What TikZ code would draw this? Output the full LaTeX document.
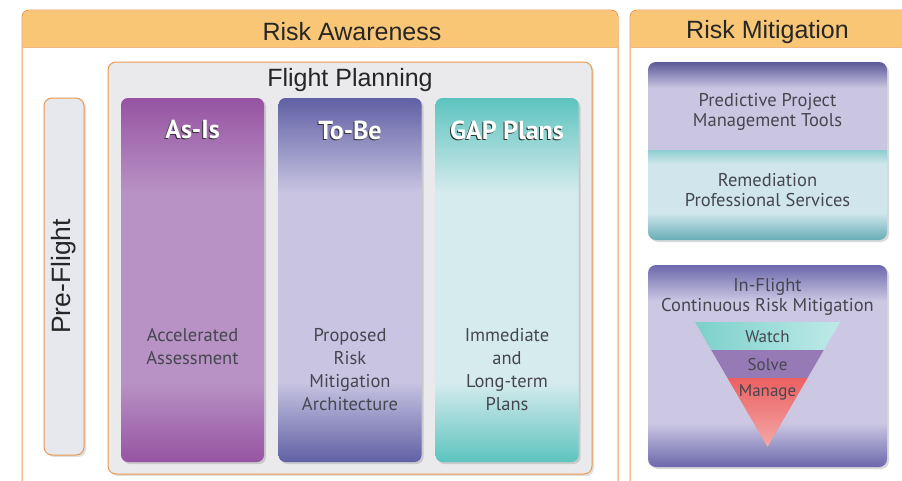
\documentclass[tikz,border=0pt]{standalone}
\usepackage{fontspec}
\setmainfont{PT Sans}
\newfontfamily\headfont{Liberation Sans}
\usetikzlibrary{shadows, positioning}
\definecolor{hdrorange}{RGB}{249,198,118}
\definecolor{lineorange}{RGB}{236,152,78}
\definecolor{boxgray}{RGB}{234,234,237}
\definecolor{preblue}{RGB}{230,232,238}
\definecolor{txtgray}{RGB}{70,70,80}
\definecolor{asisEdge}{RGB}{150,84,162}
\definecolor{asisMid}{RGB}{184,146,196}
\definecolor{tobeEdge}{RGB}{96,96,164}
\definecolor{tobeMid}{RGB}{200,196,226}
\definecolor{gapEdge}{RGB}{92,196,190}
\definecolor{gapMid}{RGB}{214,235,238}
\definecolor{toolTop}{RGB}{92,88,152}
\definecolor{toolMid}{RGB}{202,198,226}
\definecolor{servTop}{RGB}{140,206,208}
\definecolor{servMid}{RGB}{208,230,236}
\definecolor{servBot}{RGB}{104,172,182}
\definecolor{flyEdge}{RGB}{108,104,172}
\definecolor{flyMid}{RGB}{204,200,228}
\definecolor{watchc}{RGB}{190,234,232}
\definecolor{solvec}{RGB}{150,122,182}
\definecolor{managec}{RGB}{236,96,96}

% vertical shadings: the path fills 25bp..75bp
\pgfdeclareverticalshading{asisShade}{100bp}{color(0bp)=(asisEdge); color(25bp)=(asisEdge);
  color(36bp)=(asisMid); color(62bp)=(asisMid); color(75bp)=(asisEdge); color(100bp)=(asisEdge)}
\pgfdeclareverticalshading{tobeShade}{100bp}{color(0bp)=(tobeEdge); color(25bp)=(tobeEdge);
  color(36bp)=(tobeMid); color(62bp)=(tobeMid); color(75bp)=(tobeEdge); color(100bp)=(tobeEdge)}
\pgfdeclareverticalshading{gapShade}{100bp}{color(0bp)=(gapEdge); color(25bp)=(gapEdge);
  color(36bp)=(gapMid); color(62bp)=(gapMid); color(75bp)=(gapEdge); color(100bp)=(gapEdge)}
\pgfdeclareverticalshading{toolShade}{100bp}{color(0bp)=(toolMid); color(60bp)=(toolMid);
  color(75bp)=(toolTop); color(100bp)=(toolTop)}
\pgfdeclareverticalshading{servShade}{100bp}{color(0bp)=(servBot); color(25bp)=(servBot);
  color(40bp)=(servMid); color(68bp)=(servMid); color(75bp)=(servTop); color(100bp)=(servTop)}
\pgfdeclareverticalshading{flyShade}{100bp}{color(0bp)=(flyEdge); color(25bp)=(flyEdge);
  color(36bp)=(flyMid); color(66bp)=(flyMid); color(75bp)=(flyEdge); color(100bp)=(flyEdge)}

\tikzset{
  panel/.style={draw=lineorange, line width=1pt, fill=white, rounded corners=7pt},
  header/.style={font=\headfont\fontsize{25}{29}\selectfont, text=black!85},
  plainbox/.style={draw=lineorange, line width=1pt, fill=boxgray, rounded corners=8pt,
    inner sep=0pt, outer sep=0pt, drop shadow={opacity=0.25, shadow xshift=2pt, shadow yshift=-2pt}},
  column/.style={rounded corners=7pt, inner sep=0pt, outer sep=0pt, minimum width=143pt,
    minimum height=364pt, drop shadow={opacity=0.3, shadow xshift=2pt, shadow yshift=-2pt}},
  coltitle/.style={font=\fontsize{26}{29}\selectfont\bfseries, text=white},
  coltitleshade/.style={font=\fontsize{26}{29}\selectfont\bfseries, text=black!80},
  bodytext/.style={font=\fontsize{18.5}{23}\selectfont, text=txtgray, align=center},
  boxtext/.style={font=\fontsize{18.5}{19.5}\selectfont, text=txtgray, align=center},
  toolbox/.style={rounded corners=8pt, inner sep=0pt, outer sep=0pt, minimum width=239pt,
    drop shadow={opacity=0.3, shadow xshift=2pt, shadow yshift=-2pt}},
  bandtext/.style={font=\fontsize{17}{20}\selectfont, text=txtgray}
}

\begin{document}
\begin{tikzpicture}[x=1pt, y=-1pt]
    \useasboundingbox (0,0) rectangle (902,480);
    \clip (0,0) rectangle (902,480);

    % Risk Awareness panel
    \draw[panel] (22,10) rectangle (618,520);
    \fill[hdrorange, rounded corners=7pt] (22.5,10.5) -- (617.5,10.5) -- (617.5,47) -- (22.5,47) -- cycle;
    \fill[hdrorange] (22.5,30) rectangle (617.5,47);
    \draw[lineorange!70, line width=0.6pt] (22.5,47) -- (617.5,47);
    \node[header] (aware) at (352,32) {Risk Awareness};

    % Risk Mitigation panel
    \draw[panel] (630,10) rectangle (920,520);
    \fill[hdrorange, rounded corners=7pt] (630.5,10.5) -- (919.5,10.5) -- (919.5,47) -- (630.5,47) -- cycle;
    \fill[hdrorange] (630.5,30) rectangle (919.5,47);
    \draw[lineorange!70, line width=0.6pt] (630.5,47) -- (919.5,47);
    \node[header] (mitig) at (767.5,32) {Risk Mitigation};

    % Pre-Flight
    \node[plainbox, fill=preblue, minimum width=40pt, minimum height=357pt] (pre) at (64,276.5) {};
    \node[header, font=\headfont\fontsize{26.5}{30}\selectfont, rotate=90] (pretext) at (pre.center) {Pre-Flight};

    % Flight Planning
    \node[plainbox, minimum width=484pt, minimum height=412pt] (plan) at (350,268) {};
    \node[header] (plantext) at ([yshift=-18pt]plan.north) {Flight Planning};

    % Columns
    \foreach \n/\x/\s/\t in {asis/192.5/asisShade/As-Is,
                             tobe/350/tobeShade/To-Be,
                             gap/507/gapShade/GAP Plans} {
        \node[column, shading=\s] (\n) at (\x,280) {};
        \node[coltitleshade] (\n-shade) at ([xshift=-1pt, yshift=-33pt]\n.north) {\t};
        \node[coltitle] (\n-title) at ([yshift=-32pt]\n.north) {\t};
    }
    \node[bodytext, anchor=north] (asis-text) at ([yshift=-227pt]asis.north) {Accelerated\\Assessment};
    \node[bodytext, anchor=north] (tobe-text) at ([yshift=-227pt]tobe.north) {Proposed\\Risk\\Mitigation\\Architecture};
    \node[bodytext, anchor=north] (gap-text) at ([yshift=-227pt]gap.north) {Immediate\\and\\Long-term\\Plans};

    % Tools and services
    \node[toolbox, minimum height=178pt, fill=servMid] (tools) at (767.5,151) {};
    \shade[shading=toolShade, rounded corners=8pt]
        (648,62) -- (887,62) -- (887,150) -- (648,150) -- cycle;
    \fill[toolMid] (648,125) rectangle (887,150);
    \shade[shading=servShade, rounded corners=8pt]
        (648,150) -- (887,150) -- (887,240) -- (648,240) -- cycle;
    \shade[top color=servTop, bottom color=servMid] (648,150) rectangle (887,164);
    \node[boxtext] (predict) at (767.5,112) {Predictive Project\\Management Tools};
    \node[boxtext] (remed) at (767.5,190) {Remediation\\Professional Services};

    % In-Flight
    \node[toolbox, minimum height=202pt, shading=flyShade] (inflight) at (767.5,366) {};
    \node[boxtext] (inftext) at (767.5,297) {In-Flight\\Continuous Risk Mitigation};

    % Funnel
    \shade[left color=gapEdge!80, right color=watchc] (695,322) -- (840,322) -- (823.8,350) -- (711.2,350) -- cycle;
    \fill[solvec] (711.2,350) -- (823.8,350) -- (807.5,378) -- (727.5,378) -- cycle;
    \shade[top color=managec, bottom color=managec!55!white] (727.5,378) -- (807.5,378) -- (767.5,447) -- cycle;
    \node[bandtext] (watch) at (767.5,337) {Watch};
    \node[bandtext] (solve) at (767.5,365) {Solve};
    \node[bandtext] (manage) at (767.5,392) {Manage};
\end{tikzpicture}
\end{document}
